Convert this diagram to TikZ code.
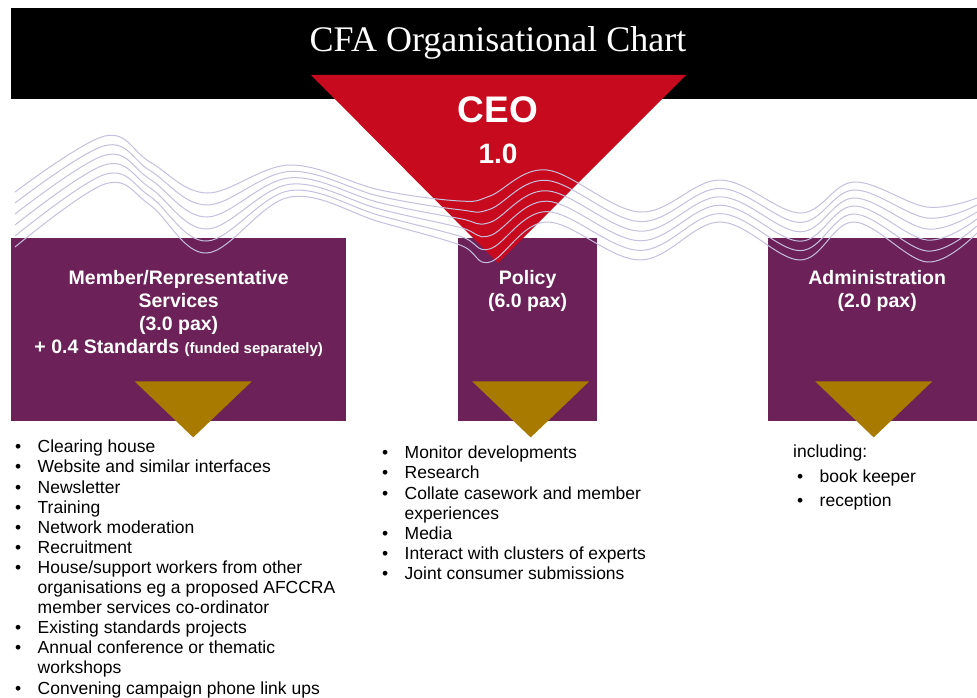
\documentclass[tikz,border=0pt]{standalone}
\usepackage{fontspec}
\setmainfont{Liberation Serif}
\setsansfont{Liberation Sans}
\usetikzlibrary{positioning,calc}
\definecolor{ceored}{RGB}{200,10,30}
\definecolor{unitpurple}{RGB}{108,33,88}
\definecolor{dropgold}{RGB}{168,122,0}
\definecolor{wavelilac}{RGB}{196,192,222}
\tikzset{
    unitbox/.style={
        rectangle,fill=unitpurple,minimum height=183pt,inner sep=0pt,anchor=north west
    },
    unitlabel/.style={
        text=white,font=\sffamily\bfseries\fontsize{19.5}{23}\selectfont,align=center,inner sep=0pt
    },
    ceolabel/.style={
        text=white,font=\sffamily\bfseries,inner sep=0pt,anchor=base
    },
    duties/.style={
        font=\sffamily\fontsize{17.5}{20.1}\selectfont,align=left,inner sep=0pt,anchor=north west
    },
    droptri/.style={
        fill=dropgold
    },
    waveline/.style={
        draw=wavelilac,line width=1pt
    }
}
\newcommand{\bul}{\makebox[23.5pt][l]{\hspace*{1pt}\textbullet}}
\newcommand{\ind}{\hspace*{23.5pt}}

\begin{document}
\begin{tikzpicture}[x=1pt,y=-1pt]
\useasboundingbox (0,0) rectangle (977,698);
% title band
\fill[black] (11,8) rectangle (977,99);
\node[font=\fontsize{36}{40}\selectfont,text=white,anchor=base] (title) at (498,52) {CFA Organisational Chart};

% the three units
\node[unitbox,minimum width=335pt] (mem) at (11,238) {};
\node[unitbox,minimum width=139pt] (pol) at (458,238) {};
\node[unitbox,minimum width=218pt] (adm) at (768,238) {};

% CEO wedge
\fill[ceored] (311,75) -- (686,75) -- (498,263) -- cycle;
\node[ceolabel,font=\sffamily\bfseries\fontsize{37}{40}\selectfont] (ceo) at (498,123) {CEO};
\node[ceolabel,font=\sffamily\bfseries\fontsize{28}{30}\selectfont] (ceofte) at (498,164) {1.0};

% ribbon of waves: top wave + \i * spread
\foreach \i in {0,...,5}
  \draw[waveline] plot[smooth,tension=.6] coordinates {
    (15,{192+11*\i}) (105,{136+9.6*\i}) (150,{162+8.6*\i}) (207,{193+12*\i})
    (290,{165+6.4*\i}) (380,{190+6.4*\i}) (460,{201+8.8*\i}) (490,{196+13.2*\i})
    (547,{170+10.4*\i}) (640,{212+9.6*\i}) (720,{180+8.4*\i}) (800,{213+9.4*\i})
    (854,{182+8*\i}) (927,{207+11*\i}) (977,{198+7*\i})};

% unit labels
\node[unitlabel,below=32pt of mem.north] (memlabel) {Member/Representative\\Services\\(3.0 pax)\\+ 0.4 Standards {\fontsize{15}{23}\selectfont(funded separately)}};
\node[unitlabel,below=32pt of pol.north] (pollabel) {Policy\\(6.0 pax)};
\node[unitlabel,below=32pt of adm.north] (admlabel) {Administration\\(2.0 pax)};

% gold drops under each unit
\foreach \u/\dx in {mem/14.5,pol/3,adm/-3.5}
  \fill[droptri] ($(\u.south)+(\dx,0)$) ++(-58.5,-40) -- ++(117,0) -- ++(-58.5,56) -- cycle;

% duty lists
\node[duties] (memduties) at (14,440) {\bul Clearing house\\
\bul Website and similar interfaces\\
\bul Newsletter\\
\bul Training\\
\bul Network moderation\\
\bul Recruitment\\
\bul House/support workers from other\\
\ind organisations eg a proposed AFCCRA\\
\ind member services co-ordinator\\
\bul Existing standards projects\\
\bul Annual conference or thematic\\
\ind workshops\\
\bul Convening campaign phone link ups};
\node[duties] (polduties) at (381,446) {\bul Monitor developments\\
\bul Research\\
\bul Collate casework and member\\
\ind experiences\\
\bul Media\\
\bul Interact with clusters of experts\\
\bul Joint consumer submissions};
\node[duties,font=\sffamily\fontsize{17.5}{24.5}\selectfont] (admduties) at (793,445) {including:\\
\hspace*{3pt}\bul book keeper\\
\hspace*{3pt}\bul reception};
\end{tikzpicture}
\end{document}
